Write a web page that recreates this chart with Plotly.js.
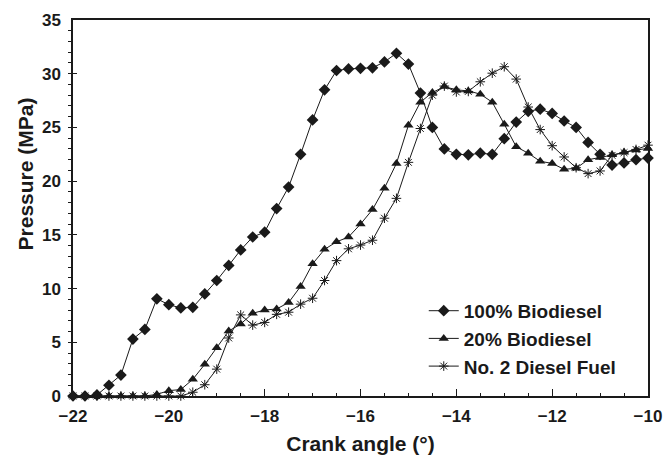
<!DOCTYPE html>
<html>
<head>
<meta charset="utf-8">
<script src="https://cdn.plot.ly/plotly-3.0.1.min.js"></script>
<style>html,body{margin:0;padding:0;background:#fff}#chart{width:663px;height:458px}</style>
</head>
<body>
<div id="chart"></div>
<script>
const crankAngle = [-22,-21.75,-21.5,-21.25,-21,-20.75,-20.5,-20.25,-20,-19.75,-19.5,-19.25,-19,-18.75,-18.5,-18.25,-18,-17.75,-17.5,-17.25,-17,-16.75,-16.5,-16.25,-16,-15.75,-15.5,-15.25,-15,-14.75,-14.5,-14.25,-14,-13.75,-13.5,-13.25,-13,-12.75,-12.5,-12.25,-12,-11.75,-11.5,-11.25,-11,-10.75,-10.5,-10.25,-10];

const bio100 = [0,0,0.1,1.0,1.95,5.3,6.2,9.05,8.5,8.2,8.25,9.5,10.75,12.15,13.6,14.8,15.25,17.45,19.45,22.5,25.7,28.5,30.3,30.45,30.5,30.55,31.1,31.9,30.9,28.2,25.0,23.0,22.5,22.45,22.6,22.5,23.95,25.5,26.5,26.7,26.3,25.6,25.0,23.6,22.5,21.5,21.7,22.0,22.15];

const bio20 = [0,0,0,0,0,0,0,0.15,0.5,0.6,1.55,2.95,4.5,6.05,6.7,7.7,8.0,8.1,8.7,10.2,12.3,13.65,14.35,14.8,16.0,17.35,19.35,21.65,25.2,27.35,28.25,28.8,28.5,28.4,28.1,27.35,25.3,23.2,22.6,21.85,21.65,21.1,21.2,22.0,22.2,22.45,22.7,22.9,23.05];

const diesel2 = [0,0,0,0,0,0,0,0,0,0,0.35,1.05,2.5,5.4,7.55,6.6,6.85,7.6,7.8,8.55,9.1,10.75,12.6,13.7,14.05,14.5,16.55,18.4,21.75,24.9,28.0,28.85,28.3,28.35,29.25,30.05,30.65,29.5,26.9,24.8,23.3,22.25,21.25,20.7,20.95,22.4,22.65,22.95,23.35];

const seriesNames = ['100% Biodiesel', '20% Biodiesel', 'No. 2 Diesel Fuel'];
const xTickVals = [-22,-20,-18,-16,-14,-12,-10];
const xTickText = ['\u221222','\u221220','\u221218','\u221216','\u221214','\u221212','\u221210'];
const yTickVals = [0,5,10,15,20,25,30,35];

const FONT = 'Liberation Sans, Arial, Helvetica, sans-serif';
const INK = '#1a1a1a';

function trace(y, name, symbol, size, lw) {
  return {
    x: crankAngle, y: y, name: name, type: 'scatter', mode: 'lines+markers',
    line: {color: INK, width: 1},
    marker: {symbol: symbol, size: size, color: INK, line: {color: INK, width: lw}},
    cliponaxis: false
  };
}

const data = [
  trace(bio100, seriesNames[0], 'diamond', 9, 0),
  trace(bio20, seriesNames[1], 'triangle-up', 9, 0),
  trace(diesel2, seriesNames[2], 'asterisk-open', 8, 1)
];

const layout = {
  width: 663, height: 458,
  margin: {l: 73, r: 15, t: 20, b: 62},
  paper_bgcolor: '#fff', plot_bgcolor: '#fff',
  font: {family: FONT, color: INK},
  showlegend: true,
  legend: {
    x: 0.61, y: 0.277, xanchor: 'left', yanchor: 'top',
    bgcolor: 'rgba(0,0,0,0)', borderwidth: 0,
    font: {family: FONT, size: 19, weight: 'bold', color: INK},
    tracegroupgap: 0, itemwidth: 30
  },
  xaxis: {
    range: [-22, -10], tickvals: xTickVals, ticktext: xTickText,
    ticks: 'inside', ticklen: 7, tickwidth: 1.2, tickcolor: INK,
    minor: {dtick: 0.5, ticks: 'inside', ticklen: 3, tickcolor: INK, tickwidth: 1},
    showline: true, linecolor: INK, linewidth: 1.6, mirror: true,
    showgrid: false, zeroline: false,
    tickfont: {family: FONT, size: 17, weight: 'bold', color: INK},
    ticklabelstandoff: 4, ticklabeloverflow: 'allow',
    title: {text: 'Crank angle (\u00b0)', font: {family: FONT, size: 21, weight: 'bold', color: INK}, standoff: 11}
  },
  yaxis: {
    range: [0, 35], tickvals: yTickVals,
    ticks: 'inside', ticklen: 4, tickwidth: 1.2, tickcolor: INK,
    minor: {dtick: 1, ticks: 'outside', ticklen: 3, tickcolor: INK, tickwidth: 1},
    showline: true, linecolor: INK, linewidth: 1.6, mirror: true,
    showgrid: false, zeroline: false,
    tickfont: {family: FONT, size: 17, weight: 'bold', color: INK},
    ticklabelstandoff: 7
  },
  annotations: [{
    text: 'Pressure (MPa)', xref: 'paper', yref: 'paper',
    x: -0.083, y: 0.59, xanchor: 'center', yanchor: 'middle',
    textangle: -90, showarrow: false,
    font: {family: FONT, size: 21, weight: 'bold', color: INK}
  }]
};

Plotly.newPlot('chart', data, layout, {displayModeBar: false, staticPlot: true});
</script>
</body>
</html>
